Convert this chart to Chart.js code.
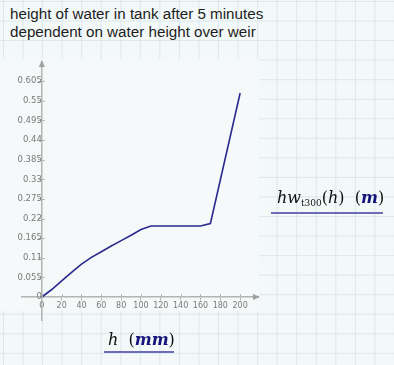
<!DOCTYPE html>
<html>
<head>
<meta charset="utf-8">
<script src="https://cdn.jsdelivr.net/npm/chart.js@4.4.1/dist/chart.umd.min.js"></script>
<style>
  html, body { margin: 0; padding: 0; }
  body {
    width: 394px; height: 365px; overflow: hidden; position: relative;
    background-color: #f3f8f8;
    background-image:
      linear-gradient(to right, #dbe8ee 1px, transparent 1px),
      linear-gradient(to bottom, #dbe8ee 1px, transparent 1px);
    background-size: 19.55px 19.55px;
    background-position: 3px 1px;
  }
  #plotbg { position: absolute; left: 0; top: 59px; width: 259px; height: 252px; background: #f5f9f9; }
  #title { position: absolute; left: 10px; top: 5px; font-family: "Liberation Sans", Arial, sans-serif; font-size: 15.2px; line-height: 18px; color: #1e1e1e; white-space: nowrap; }
  #cv { position: absolute; left: 0; top: 0; }
  .mlabel { position: absolute; font-family: "DejaVu Serif", "Liberation Serif", serif; font-size: 16px; color: #111; white-space: nowrap; }
  .mlabel i { font-style: italic; }
  .unit { font-weight: bold; font-style: italic; color: #14147a; }
  .uline { position: absolute; height: 2px; background: #6d6db5; }
  sub { font-size: 9px; vertical-align: -3px; font-style: normal; }
</style>
</head>
<body>
<div id="plotbg"></div>
<div id="title">height of water in tank after 5 minutes<br>dependent on water height over weir</div>
<canvas id="cv" width="394" height="365"></canvas>
<div class="mlabel" id="xl" style="left:108px; top:330px;"><i>h</i>&nbsp; (<span class="unit">mm</span>)</div>
<div class="uline" style="left:104px; top:351px; width:70px;"></div>
<div class="mlabel" id="yl" style="left:277px; top:188px;"><i>hw</i><sub>t300</sub>(<i>h</i>)&nbsp; (<span class="unit">m</span>)</div>
<div class="uline" style="left:271px; top:212px; width:112px;"></div>
<script>
// ---- data ----
const hValues  = [0, 10, 20, 30, 40, 50, 60, 70, 80, 90, 100, 110, 120, 130, 140, 150, 160, 170, 180, 190, 200];
const hwValues = [0, 0.021, 0.045, 0.069, 0.092, 0.111, 0.127, 0.143, 0.158, 0.173, 0.189, 0.199, 0.199, 0.199, 0.199, 0.199, 0.199, 0.206, 0.328, 0.450, 0.572];
const xTickLabels = ['0', '20', '40', '60', '80', '100', '120', '140', '160', '180', '200'];
const yTickLabels = ['0', '0.055', '0.11', '0.165', '0.22', '0.275', '0.33', '0.385', '0.44', '0.495', '0.55', '0.605'];

const xTickVals = xTickLabels.map(Number);
const yTickVals = yTickLabels.map(Number);
const points = hValues.map((h, i) => ({ x: h, y: hwValues[i] }));

const axisGray = '#b4b4b4';

// arrowheads at axis ends and short cross-ticks (decoration, positioned through the scales)
const axisDecor = {
  id: 'axisDecor',
  afterDraw(chart) {
    const { ctx, chartArea, scales } = chart;
    const ay = scales.y.getPixelForValue(0);
    const ax = scales.x.getPixelForValue(0);
    ctx.save();
    ctx.strokeStyle = axisGray;
    ctx.lineWidth = 1;
    ctx.beginPath();
    scales.x.ticks.forEach(t => {
      const px = Math.round(scales.x.getPixelForValue(t.value)) + 0.5;
      ctx.moveTo(px, ay - 3); ctx.lineTo(px, ay);
    });
    scales.y.ticks.forEach(t => {
      const py = Math.round(scales.y.getPixelForValue(t.value)) + 0.5;
      ctx.moveTo(ax, py); ctx.lineTo(ax + 3, py);
    });
    ctx.stroke();
    ctx.fillStyle = '#a0a0a0';
    ctx.beginPath();
    ctx.moveTo(chartArea.right + 2, ay);
    ctx.lineTo(chartArea.right - 5, ay - 3);
    ctx.lineTo(chartArea.right - 5, ay + 3);
    ctx.closePath();
    ctx.fill();
    ctx.beginPath();
    ctx.moveTo(ax, chartArea.top - 2);
    ctx.lineTo(ax - 3, chartArea.top + 5);
    ctx.lineTo(ax + 3, chartArea.top + 5);
    ctx.closePath();
    ctx.fill();
    ctx.restore();
  }
};

new Chart(document.getElementById('cv'), {
  type: 'scatter',
  data: {
    datasets: [{
      data: points,
      showLine: true,
      borderColor: '#2a2a8e',
      borderWidth: 1.6,
      pointRadius: 0,
      tension: 0,
      fill: false
    }]
  },
  options: {
    responsive: false,
    animation: false,
    events: [],
    layout: { padding: { left: 22, right: 136, top: 62, bottom: 45 } },
    plugins: { legend: { display: false }, tooltip: { enabled: false }, title: { display: false } },
    scales: {
      x: {
        type: 'linear',
        min: -20,
        max: 218,
        position: { y: 0 },
        afterBuildTicks: (s) => { s.ticks = xTickVals.map(v => ({ value: v })); },
        ticks: {
          autoSkip: false, maxRotation: 0, padding: 1,
          color: '#7a7a7a', font: { family: 'DejaVu Sans', size: 8 },
          callback: (v) => xTickLabels[xTickVals.indexOf(v)] ?? ''
        },
        grid: { drawOnChartArea: false, drawTicks: true, tickLength: 3, color: axisGray },
        border: { display: true, color: axisGray, width: 1.5 }
      },
      y: {
        type: 'linear',
        min: -0.0645,
        max: 0.659,
        position: { x: 0 },
        afterBuildTicks: (s) => { s.ticks = yTickVals.map(v => ({ value: v })); },
        ticks: {
          autoSkip: false, padding: 3,
          color: '#7a7a7a', font: { family: 'DejaVu Sans', size: 8.5 },
          callback: (v) => yTickLabels[yTickVals.indexOf(v)] ?? ''
        },
        grid: { drawOnChartArea: false, drawTicks: true, tickLength: 3, color: axisGray },
        border: { display: true, color: axisGray, width: 1.5 }
      }
    }
  },
  plugins: [axisDecor]
});
</script>
</body>
</html>
